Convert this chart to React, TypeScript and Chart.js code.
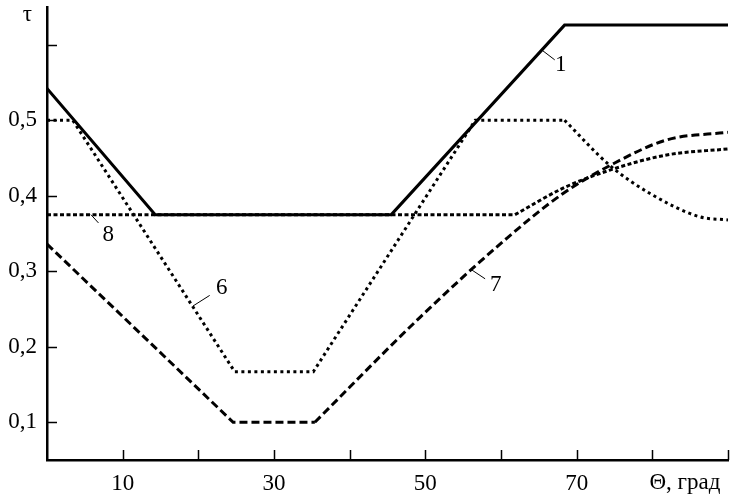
import React, { useEffect, useRef } from 'react';
import { Chart, registerables } from 'chart.js';

Chart.register(...registerables);

// ---- data (Θ in degrees, τ) ----
const theta1 = [0, 14.3, 45.5, 68.4, 90];
const tau1 = [0.542, 0.375, 0.375, 0.626, 0.626];

const theta6Lin = [0, 3.4, 24.8, 35.2, 56.6, 68.4];
const tau6Lin = [0.5, 0.5, 0.167, 0.167, 0.5, 0.5];
const theta6Curve = [68.4, 74.4, 79.7, 86.3, 90];
const tau6Curve = [0.5, 0.44, 0.403, 0.372, 0.368];

const theta7Lin = [0, 24.6, 35.4];
const tau7Lin = [0.336, 0.1, 0.1];
const theta7Curve = [35.4, 49.3, 60.8, 68.2, 74.4, 81.9, 90];
const tau7Curve = [0.1, 0.239, 0.344, 0.403, 0.44, 0.474, 0.484];

const theta8Lin = [0, 61.85];
const tau8Lin = [0.375, 0.375];
const theta8Curve = [61.85, 68.2, 74.4, 81.9, 90];
const tau8Curve = [0.375, 0.41, 0.434, 0.454, 0.462];

// ---- ticks ----
const xTicks = [10, 20, 30, 40, 50, 60, 70, 80, 90];
const xTickLabels = ['10', '', '30', '', '50', '', '70', '', ''];
const yTicks = [0.1, 0.2, 0.3, 0.4, 0.5, 0.6];
const yTickLabels = ['0,1', '0,2', '0,3', '0,4', '0,5', ''];

const xTitle = 'Θ, град';
const xTitleTheta = 84.3;
const yTitle = 'τ';
const yTitleTheta = -2.6;
const yTitleTau = 0.639;

// ---- curve labels with leader lines ----
const curveLabels = ['1', '6', '7', '8'];
const curveLabelTheta = [67.9, 23.1, 59.3, 8.1];
const curveLabelTau = [0.573, 0.278, 0.282, 0.348];
const leaderFromTheta = [65.4, 19.3, 56.1, 5.8];
const leaderFromTau = [0.593, 0.254, 0.302, 0.375];
const leaderToTheta = [67.1, 21.5, 57.9, 6.8];
const leaderToTau = [0.58, 0.268, 0.29, 0.364];

const FONT = '"Liberation Serif", "Times New Roman", serif';
const FSIZE = 23;

function pts(xs: number[], ys: number[]) {
  return xs.map((x, i) => ({ x, y: ys[i] }));
}

function ds(xs: number[], ys: number[], dash: number[], curve: boolean) {
  return {
    data: pts(xs, ys),
    borderColor: '#000',
    borderWidth: 3,
    borderDash: dash,
    pointRadius: 0,
    fill: false,
    tension: 0,
    cubicInterpolationMode: curve ? 'monotone' : 'default',
  };
}

const decorPlugin = {
  id: 'decor',
  afterDraw(chart: any) {
    const { ctx, chartArea, scales } = chart;
    const x = scales.x;
    const y = scales.y;
    ctx.save();
    ctx.strokeStyle = '#000';
    ctx.lineWidth = 1.5;
    ctx.beginPath();
    xTicks.forEach((v) => {
      const px = Math.round(x.getPixelForValue(v)) + 0.5;
      ctx.moveTo(px, chartArea.bottom);
      ctx.lineTo(px, chartArea.bottom - 10);
    });
    yTicks.forEach((v) => {
      const py = Math.round(y.getPixelForValue(v)) + 0.5;
      ctx.moveTo(chartArea.left, py);
      ctx.lineTo(chartArea.left + 10, py);
    });
    ctx.stroke();

    ctx.lineWidth = 1;
    ctx.beginPath();
    curveLabels.forEach((_, i) => {
      ctx.moveTo(x.getPixelForValue(leaderFromTheta[i]), y.getPixelForValue(leaderFromTau[i]));
      ctx.lineTo(x.getPixelForValue(leaderToTheta[i]), y.getPixelForValue(leaderToTau[i]));
    });
    ctx.stroke();

    ctx.fillStyle = '#000';
    ctx.font = `${FSIZE}px ${FONT}`;
    ctx.textAlign = 'center';
    ctx.textBaseline = 'middle';
    curveLabels.forEach((t, i) => {
      ctx.fillText(t, x.getPixelForValue(curveLabelTheta[i]), y.getPixelForValue(curveLabelTau[i]));
    });
    ctx.fillText(xTitle, x.getPixelForValue(xTitleTheta), chartArea.bottom + 23);
    ctx.fillText(yTitle, x.getPixelForValue(yTitleTheta), y.getPixelForValue(yTitleTau));
    ctx.restore();
  },
};

export default function App() {
  const ref = useRef<HTMLCanvasElement | null>(null);

  useEffect(() => {
    if (!ref.current) return;
    const chart = new Chart(ref.current, {
      type: 'line',
      data: {
        datasets: [
          ds(theta1, tau1, [], false),
          ds(theta6Lin, tau6Lin, [3, 3.5], false),
          ds(theta6Curve, tau6Curve, [3, 3.5], true),
          ds(theta7Lin, tau7Lin, [8, 4], false),
          ds(theta7Curve, tau7Curve, [8, 4], true),
          ds(theta8Lin, tau8Lin, [4, 2.5], false),
          ds(theta8Curve, tau8Curve, [4, 2.5], true),
        ] as any,
      },
      options: {
        animation: false,
        responsive: false,
        devicePixelRatio: 1,
        layout: { padding: { left: 0, right: 5, top: 7, bottom: 0 } },
        plugins: { legend: { display: false }, tooltip: { enabled: false } },
        scales: {
          x: {
            type: 'linear',
            min: 0,
            max: 90,
            grid: { display: false, drawTicks: false },
            border: { display: true, width: 2.5, color: '#000' },
            afterBuildTicks: (s: any) => {
              s.ticks = xTicks.map((v) => ({ value: v }));
            },
            afterFit: (s: any) => {
              s.height = 39;
              s.paddingLeft = 0;
              s.paddingRight = 0;
            },
            ticks: {
              autoSkip: false,
              maxRotation: 0,
              padding: 10,
              color: '#000',
              font: { family: FONT, size: FSIZE },
              callback: (v: any) => {
                const i = xTicks.indexOf(Number(v));
                return i >= 0 ? xTickLabels[i] : '';
              },
            },
          },
          y: {
            type: 'linear',
            min: 0.05,
            max: 0.65,
            grid: { display: false, drawTicks: false },
            border: { display: true, width: 2.5, color: '#000' },
            afterBuildTicks: (s: any) => {
              s.ticks = yTicks.map((v) => ({ value: v }));
            },
            afterFit: (s: any) => {
              s.width = 47;
              s.paddingTop = 0;
              s.paddingBottom = 0;
            },
            ticks: {
              autoSkip: false,
              padding: 10,
              color: '#000',
              font: { family: FONT, size: FSIZE },
              callback: (v: any) => {
                const i = yTicks.findIndex((t) => Math.abs(t - Number(v)) < 1e-6);
                return i >= 0 ? yTickLabels[i] : '';
              },
            },
          },
        },
      } as any,
      plugins: [decorPlugin],
    });
    return () => chart.destroy();
  }, []);

  return (
    <div style={{ position: 'fixed', left: 0, top: 0, width: 733, height: 499, background: '#fff' }}>
      <canvas ref={ref} width={733} height={499} style={{ display: 'block', width: 733, height: 499 }} />
    </div>
  );
}
